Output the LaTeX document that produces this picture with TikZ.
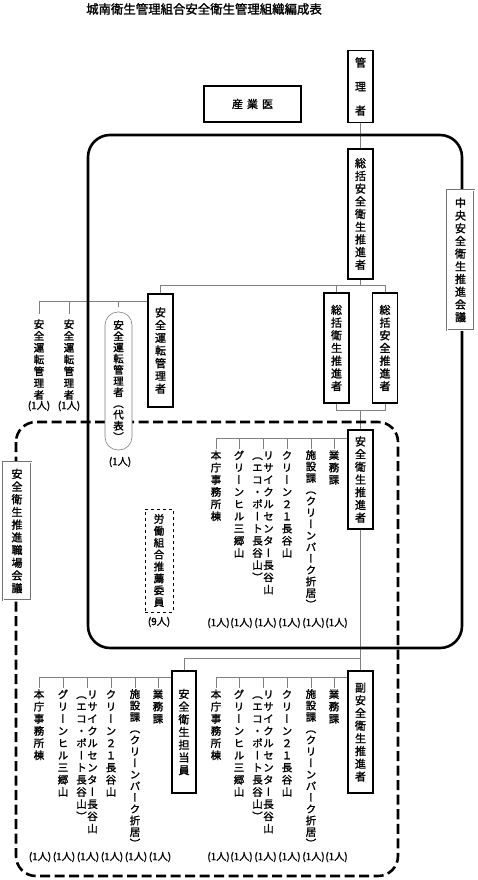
\documentclass[tikz,border=0pt]{standalone}
\usepackage{fontspec}
\newfontfamily\jp[AutoFakeBold=1.6]{Noto Sans CJK JP}
\newfontfamily\jpv[RawFeature=+vert, AutoFakeBold=1.6]{Noto Sans CJK JP}
\usetikzlibrary{backgrounds}

% vertical text: one character per cell
\makeatletter
\newcommand\tate[2][12.7]{\vtop{\offinterlineskip\def\tate@h{#1}\tate@#2\relax}}
\def\tate@#1{\ifx\relax#1\else\vbox to \tate@h pt{\vss\hbox to 11pt{\hss\raisebox{-0.38em}[0pt][0pt]{#1}\hss}\vss}\expandafter\tate@\fi}
\makeatother

\begin{document}
\begin{tikzpicture}[x=1pt,y=-1pt]
        \tikzstyle{every node}=[inner sep=0pt]
        \tikzstyle{post}=[draw, line width=1.1pt, fill=white, minimum width=25pt, font=\jpv\bfseries\fontsize{11}{13}\selectfont]
        \tikzstyle{council}=[draw=black!55, double=white, double distance=1pt, line width=.7pt, fill=white, minimum width=27pt, font=\jpv\bfseries\fontsize{11}{13}\selectfont]
        \tikzstyle{unit}=[anchor=north, font=\jpv\bfseries\fontsize{10.5}{12}\selectfont]
        \tikzstyle{count}=[font=\jp\bfseries\fontsize{10}{12}\selectfont]
        \tikzstyle{link}=[draw=black!50, line width=.6pt]

        \useasboundingbox (0,0) rectangle (477,880);

        % frames
        \draw[line width=2.6pt, rounded corners=22pt] (88,135) rectangle (462,648);
        \draw[line width=2.6pt, dash pattern=on 10pt off 4.5pt, rounded corners=20pt] (16,422) rectangle (398,876);

        \node (title) at (204,9) [font=\jp\bfseries\fontsize{12.4}{14}\selectfont] {城南衛生管理組合安全衛生管理組織編成表};

        \node (kanri)   at (360.5,86.5) [post, minimum height=71pt] {\tate[24]{管理者}};
        \node (sangyoi) at (252.5,104)  [post, minimum width=97pt, minimum height=36pt, font=\jp\bfseries\fontsize{11}{13}\selectfont] {産\hspace{4pt}業\hspace{4pt}医};
        \node (sokatsu) at (360.5,214)  [post, minimum height=130pt] {\tate{総括安全衛生推進者}};
        \node (chuo)    at (460.5,260)  [council, minimum height=140pt] {\tate{中央安全衛生推進会議}};

        \node (unten)   at (160.5,350.5) [post, minimum height=113pt] {\tate{安全運転管理者}};
        \node (eisei)   at (336.5,348)   [post, minimum height=110pt] {\tate{総括衛生推進者}};
        \node (anzen)   at (385,348)     [post, minimum height=110pt] {\tate{総括安全推進者}};

        \node (untenA)  at (39,318) [unit] {\tate[11.8]{安全運転管理者}};
        \node (untenB)  at (69,318) [unit] {\tate[11.8]{安全運転管理者}};
        \node (daihyo)  at (118.5,381) [draw=black!50, line width=.6pt, rounded corners=13pt, fill=white, minimum width=27pt, minimum height=138pt, font=\jpv\bfseries\fontsize{10.5}{12}\selectfont] {\tate[11.2]{安全運転管理者（代表）}};
        \node (nA) at (39,406)  [count] {(1人)};
        \node (nB) at (69,406)  [count] {(1人)};
        \node (nD) at (120,462) [count] {(1人)};

        \node (suishin) at (360.5,479.5) [post, minimum height=99pt] {\tate{安全衛生推進者}};
        \node (shokuba) at (17,531)      [council, minimum width=28pt, minimum height=138pt] {\tate{安全衛生推進職場会議}};
        \node (rodo)    at (159,560.5)   [draw, dashed, line width=.8pt, fill=white, minimum width=28pt, minimum height=103pt, font=\jpv\bfseries\fontsize{10.5}{12}\selectfont] {\tate[11.9]{労働組合推薦委員}};
        \node (nR) at (159,622) [count] {(9人)};

        % sections under the safety promoter
        \node (u1) at (216,449) [unit] {\tate[12.2]{本庁事務所棟}};
        \node (u2) at (239,449) [unit] {\tate[12.2]{グリーンヒル三郷山}};
        \node (u3) at (263,449) [unit] {\tate[12.2]{（エコ・ポート長谷山）}\tate[12.2]{リサイクルセンター長谷山}};
        \node (u4) at (287,449) [unit] {\tate[12.2]{クリーン２１長谷山}};
        \node (u5) at (311,449) [unit] {\tate[11.5]{施設課（クリーンパーク折居）}};
        \node (u6) at (334,449) [unit] {\tate[12.2]{業務課}};
        \node (nu1) at (218.5,623) [count] {(1人)};
        \node (nu2) at (241.5,623) [count] {(1人)};
        \node (nu3) at (265.5,623) [count] {(1人)};
        \node (nu4) at (289.5,623) [count] {(1人)};
        \node (nu5) at (313.5,623) [count] {(1人)};
        \node (nu6) at (336.5,623) [count] {(1人)};

        \node (tanto) at (184,732)   [post, minimum width=24pt, minimum height=122pt] {\tate{安全衛生担当員}};
        \node (fuku)  at (360.5,732) [post, minimum height=122pt] {\tate{副安全衛生推進者}};

        % sections under the health officer
        \node (l1) at (39,688)  [unit] {\tate[12.2]{本庁事務所棟}};
        \node (l2) at (63,688)  [unit] {\tate[12.2]{グリーンヒル三郷山}};
        \node (l3) at (87,688)  [unit] {\tate[12.2]{（エコ・ポート長谷山）}\tate[12.2]{リサイクルセンター長谷山}};
        \node (l4) at (111,688) [unit] {\tate[12.2]{クリーン２１長谷山}};
        \node (l5) at (135,688) [unit] {\tate[11.5]{施設課（クリーンパーク折居）}};
        \node (l6) at (158,688) [unit] {\tate[12.2]{業務課}};
        \node (nl1) at (40,857)  [count] {(1人)};
        \node (nl2) at (64,857)  [count] {(1人)};
        \node (nl3) at (88,857)  [count] {(1人)};
        \node (nl4) at (112,857) [count] {(1人)};
        \node (nl5) at (136,857) [count] {(1人)};
        \node (nl6) at (160,857) [count] {(1人)};

        % sections under the deputy promoter
        \node (r1) at (216,688) [unit] {\tate[12.2]{本庁事務所棟}};
        \node (r2) at (239,688) [unit] {\tate[12.2]{グリーンヒル三郷山}};
        \node (r3) at (263,688) [unit] {\tate[12.2]{（エコ・ポート長谷山）}\tate[12.2]{リサイクルセンター長谷山}};
        \node (r4) at (287,688) [unit] {\tate[12.2]{クリーン２１長谷山}};
        \node (r5) at (311,688) [unit] {\tate[11.5]{施設課（クリーンパーク折居）}};
        \node (r6) at (334,688) [unit] {\tate[12.2]{業務課}};
        \node (nr1) at (218.5,857) [count] {(1人)};
        \node (nr2) at (241.5,857) [count] {(1人)};
        \node (nr3) at (265.5,857) [count] {(1人)};
        \node (nr4) at (289.5,857) [count] {(1人)};
        \node (nr5) at (313.5,857) [count] {(1人)};
        \node (nr6) at (336.5,857) [count] {(1人)};

        \begin{scope}[on background layer]
        \draw[link] (kanri) -- (sokatsu);
        \draw[link] (sokatsu.south) -- ++(0,6) -| (unten.north);
        \draw[link] (sokatsu.south) -- ++(0,6) -| (eisei.north);
        \draw[link] (sokatsu.south) -- ++(0,6) -| (anzen.north);
        \draw[link, shorten >=4pt] ([yshift=-8pt]unten.north west) -| (untenA.north);
        \draw[link, shorten >=4pt] ([yshift=-8pt]unten.north west) -| (untenB.north);
        \draw[link, shorten >=5pt] ([yshift=-8pt]unten.north west) -| (daihyo.north);
        \draw[link] (eisei.south) -- ++(0,7) -| (suishin.north);
        \draw[link] (anzen.south) -- ++(0,7) -| (suishin.north);
        \draw[link] ([yshift=-9pt]suishin.north west) -| (u1.north);
        \draw[link] ([yshift=-9pt]suishin.north west) -| (u2.north);
        \draw[link] ([yshift=-9pt]suishin.north west) -| (u3.north);
        \draw[link] ([yshift=-9pt]suishin.north west) -| (u4.north);
        \draw[link] ([yshift=-9pt]suishin.north west) -| (u5.north);
        \draw[link] ([yshift=-9pt]suishin.north west) -| (u6.north);
        \draw[link] (suishin) -- (fuku);
        \draw[link] (tanto.north) |- ([yshift=12pt]fuku.north);
        \draw[link] ([yshift=-7pt]tanto.north west) -| (l1.north);
        \draw[link] ([yshift=-7pt]tanto.north west) -| (l2.north);
        \draw[link] ([yshift=-7pt]tanto.north west) -| (l3.north);
        \draw[link] ([yshift=-7pt]tanto.north west) -| (l4.north);
        \draw[link] ([yshift=-7pt]tanto.north west) -| (l5.north);
        \draw[link] ([yshift=-7pt]tanto.north west) -| (l6.north);
        \draw[link] ([yshift=-7pt]fuku.north west) -| (r1.north);
        \draw[link] ([yshift=-7pt]fuku.north west) -| (r2.north);
        \draw[link] ([yshift=-7pt]fuku.north west) -| (r3.north);
        \draw[link] ([yshift=-7pt]fuku.north west) -| (r4.north);
        \draw[link] ([yshift=-7pt]fuku.north west) -| (r5.north);
        \draw[link] ([yshift=-7pt]fuku.north west) -| (r6.north);
        \end{scope}
\end{tikzpicture}
\end{document}
